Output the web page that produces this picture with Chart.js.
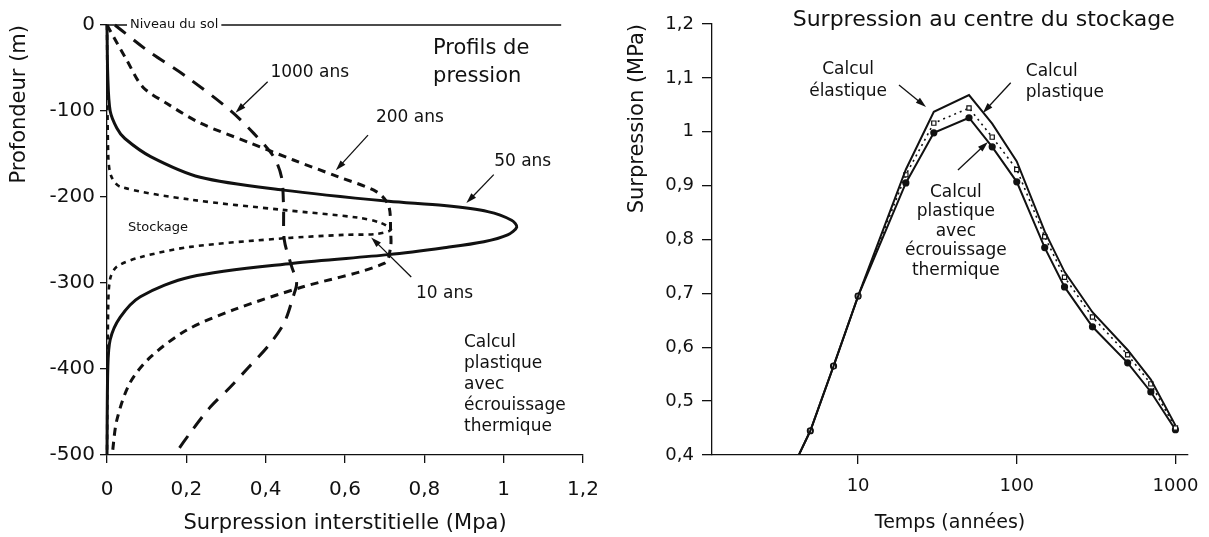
<!DOCTYPE html>
<html>
<head>
<meta charset="utf-8">
<script src="https://cdn.jsdelivr.net/npm/chart.js@4.4.0/dist/chart.umd.min.js"></script>
<style>
  html, body { margin: 0; padding: 0; background: #fff; }
  #gauche { position: absolute; left: 0; top: 0; }
  #droite { position: absolute; left: 600px; top: 0; }
</style>
</head>
<body>
<canvas id="gauche" width="600" height="537"></canvas>
<canvas id="droite" width="609" height="537"></canvas>
<script>
// Profils de pression : [surpression (MPa), profondeur (m)]
const profil10 = [[0, 0], [0.003, -150], [0.01, -175], [0.033, -188], [0.21, -203], [0.443, -215], [0.633, -224],
  [0.69, -230], [0.716, -238], [0.68, -243], [0.6, -244], [0.446, -248], [0.21, -258], [0.084, -270],
  [0.025, -281], [0.008, -295], [0.003, -330], [0, -500]];
const profil50 = [[0, 0], [0.002, -60], [0.008, -100], [0.025, -120], [0.045, -132], [0.11, -153], [0.235, -177],
  [0.445, -192], [0.71, -205], [0.85, -210], [0.96, -217], [1.02, -227], [1.033, -235], [1.01, -244], [0.95, -252],
  [0.85, -259], [0.71, -267], [0.47, -277], [0.21, -293], [0.084, -316], [0.033, -340], [0.008, -366],
  [0.002, -400], [0, -500]];
const profil200 = [[0, 0], [0.05, -41], [0.09, -72], [0.15, -91], [0.235, -114], [0.36, -137], [0.47, -157],
  [0.58, -176], [0.68, -194], [0.71, -210], [0.715, -240], [0.715, -258], [0.7, -277], [0.49, -305],
  [0.32, -331], [0.2, -355], [0.11, -386], [0.058, -416], [0.025, -459], [0.013, -500]];
const profil1000 = [[0.02, 0], [0.1, -29], [0.2, -60], [0.31, -99], [0.37, -126], [0.42, -153], [0.44, -177],
  [0.445, -210], [0.447, -250], [0.465, -280], [0.478, -300], [0.47, -315], [0.446, -347], [0.405, -374],
  [0.357, -398], [0.311, -421], [0.261, -444], [0.215, -471], [0.17, -500]];
const niveauSol = [[0, 0], [1.145, 0]];

// Surpression au centre du stockage
const annees = [4, 5, 7, 10, 20, 30, 50, 70, 100, 150, 200, 300, 500, 700, 1000];
const elastique = [0.385, 0.445, 0.565, 0.695, 0.93, 1.037, 1.068, 1.015, 0.945, 0.815, 0.74, 0.665, 0.595, 0.54, 0.455];
const plastique = [0.385, 0.445, 0.565, 0.695, 0.92, 1.016, 1.044, 0.99, 0.93, 0.805, 0.73, 0.656, 0.586, 0.532, 0.45];
const ecrouissage = [0.385, 0.445, 0.565, 0.695, 0.905, 0.998, 1.026, 0.972, 0.907, 0.785, 0.712, 0.638, 0.571, 0.517, 0.447];
const anneesTicks = [10, 100, 1000];

const NOIR = '#111';
Chart.defaults.font.family = '"DejaVu Sans", sans-serif';
Chart.defaults.color = NOIR;

const virgule = v => String(Math.round(v * 10) / 10).replace('.', ',');
const pts = arr => arr.map(p => ({ x: p[0], y: p[1] }));
const serie = ys => annees.map((a, i) => ({ x: a, y: ys[i] }));

// textes et flèches placés en coordonnées de données
const notes = {
  id: 'notes',
  afterDatasetsDraw(chart, args, opts) {
    const { ctx, scales: { x, y } } = chart;
    ctx.save();
    ctx.fillStyle = NOIR;
    ctx.strokeStyle = NOIR;
    (opts.arrows || []).forEach(a => {
      const x1 = x.getPixelForValue(a[0][0]), y1 = y.getPixelForValue(a[0][1]);
      const x2 = x.getPixelForValue(a[1][0]), y2 = y.getPixelForValue(a[1][1]);
      const ang = Math.atan2(y2 - y1, x2 - x1);
      ctx.lineWidth = 1.3;
      ctx.beginPath();
      ctx.moveTo(x1, y1);
      ctx.lineTo(x2 - 6 * Math.cos(ang), y2 - 6 * Math.sin(ang));
      ctx.stroke();
      ctx.beginPath();
      ctx.moveTo(x2, y2);
      ctx.lineTo(x2 - 11 * Math.cos(ang - 0.3), y2 - 11 * Math.sin(ang - 0.3));
      ctx.lineTo(x2 - 11 * Math.cos(ang + 0.3), y2 - 11 * Math.sin(ang + 0.3));
      ctx.closePath();
      ctx.fill();
    });
    (opts.texts || []).forEach(t => {
      ctx.font = (t.size || 17) + 'px "DejaVu Sans"';
      ctx.textAlign = t.align || 'left';
      ctx.textBaseline = 'middle';
      const px = x.getPixelForValue(t.x), py = y.getPixelForValue(t.y);
      t.lines.forEach((line, i) => {
        const ly = py + i * (t.lh || 21);
        if (t.bg) {
          const w = ctx.measureText(line).width;
          ctx.fillStyle = '#fff';
          ctx.fillRect(px - 3, ly - 8, w + 6, 16);
          ctx.fillStyle = NOIR;
        }
        ctx.fillText(line, px, ly);
      });
    });
    ctx.restore();
  }
};

new Chart(document.getElementById('gauche'), {
  type: 'scatter',
  data: {
    datasets: [
      { label: 'sol', data: pts(niveauSol), borderWidth: 1.3, tension: 0 },
      { label: '10 ans', data: pts(profil10), borderWidth: 2.6, borderDash: [5, 5] },
      { label: '50 ans', data: pts(profil50), borderWidth: 3 },
      { label: '200 ans', data: pts(profil200), borderWidth: 3, borderDash: [8, 6] },
      { label: '1000 ans', data: pts(profil1000), borderWidth: 3, borderDash: [14, 10] }
    ].map(d => Object.assign({ showLine: true, borderColor: NOIR, pointRadius: 0, tension: 0.3, clip: 4 }, d))
  },
  options: {
    responsive: false,
    animation: false,
    layout: { padding: { top: 25, right: 17, left: 0, bottom: 0 } },
    plugins: {
      legend: { display: false },
      tooltip: { enabled: false },
      notes: {
        texts: [
          { x: 0.058, y: 0, lines: ['Niveau du sol'], size: 13, bg: true },
          { x: 0.412, y: -55, lines: ['1000 ans'] },
          { x: 0.678, y: -108, lines: ['200 ans'] },
          { x: 0.976, y: -159, lines: ['50 ans'] },
          { x: 0.779, y: -312, lines: ['10 ans'] },
          { x: 0.053, y: -236, lines: ['Stockage'], size: 13 },
          { x: 0.822, y: -27, lines: ['Profils de', 'pression'], size: 21, lh: 28 },
          { x: 0.9, y: -369, lines: ['Calcul', 'plastique', 'avec', 'écrouissage', 'thermique'], lh: 21 }
        ],
        arrows: [
          [[0.405, -66], [0.324, -102]],
          [[0.658, -128], [0.577, -169]],
          [[0.975, -174], [0.906, -207]],
          [[0.767, -293], [0.666, -247]]
        ]
      }
    },
    scales: {
      x: {
        type: 'linear', min: 0, max: 1.2,
        ticks: { stepSize: 0.2, callback: virgule, font: { size: 20 }, padding: 15 },
        grid: { drawOnChartArea: false, tickLength: 8, color: NOIR, lineWidth: 1.3 },
        border: { color: NOIR, width: 1.3 },
        title: { display: true, text: 'Surpression interstitielle (Mpa)', font: { size: 21 }, padding: { top: 0, bottom: 1 } },
        afterFit(s) { s.height = 82; s.paddingLeft = 0; s.paddingRight = 0; }
      },
      y: {
        min: -500, max: 0,
        ticks: { stepSize: 100, font: { size: 20 }, padding: 5 },
        grid: { drawOnChartArea: false, tickLength: 7, color: NOIR, lineWidth: 1.3 },
        border: { color: NOIR, width: 1.3 },
        title: { display: true, text: 'Profondeur (m)', align: 'end', font: { size: 21 }, padding: { top: 7, bottom: 0 } },
        afterFit(s) { s.width = 107; s.paddingTop = 0; s.paddingBottom = 0; }
      }
    }
  },
  plugins: [notes]
});

new Chart(document.getElementById('droite'), {
  type: 'scatter',
  data: {
    datasets: [
      { label: 'Calcul élastique', data: serie(elastique), borderWidth: 2, pointRadius: 0 },
      { label: 'Calcul plastique', data: serie(plastique), borderWidth: 1.6, borderDash: [2, 4],
        pointStyle: 'rect', pointRadius: 3, pointBackgroundColor: '#fff', pointBorderWidth: 1.2 },
      { label: 'Calcul plastique avec écrouissage thermique', data: serie(ecrouissage), borderWidth: 2,
        pointStyle: 'circle', pointRadius: 2.6, pointBackgroundColor: NOIR }
    ].map(d => Object.assign({ showLine: true, borderColor: NOIR, pointBorderColor: NOIR, tension: 0 }, d))
  },
  options: {
    responsive: false,
    animation: false,
    layout: { padding: { top: 24, right: 21, left: 0, bottom: 0 } },
    plugins: {
      legend: { display: false },
      tooltip: { enabled: false },
      notes: {
        texts: [
          { x: 61.9, y: 1.2074, lines: ['Surpression au centre du stockage'], size: 22, align: 'center' },
          { x: 8.65, y: 1.1147, lines: ['Calcul', 'élastique'], align: 'center', lh: 22 },
          { x: 114, y: 1.111, lines: ['Calcul', 'plastique'], lh: 21 },
          { x: 41.3, y: 0.888, lines: ['Calcul', 'plastique', 'avec', 'écrouissage', 'thermique'], align: 'center', lh: 19.5 }
        ],
        arrows: [
          [[18.1, 1.087], [26.8, 1.046]],
          [[91.6, 1.091], [61.1, 1.035]],
          [[42.6, 0.929], [65.8, 0.981]]
        ]
      }
    },
    scales: {
      x: {
        type: 'logarithmic', min: 1.2, max: 1200,
        afterBuildTicks(s) { s.ticks = anneesTicks.map(v => ({ value: v })); },
        ticks: { callback: v => String(v), font: { size: 18 }, padding: 12, autoSkip: false, maxRotation: 0 },
        grid: { drawOnChartArea: false, tickLength: 9, color: NOIR, lineWidth: 1.3 },
        border: { color: NOIR, width: 1.3 },
        title: { display: true, text: 'Temps (années)', font: { size: 19 }, padding: { top: 0, bottom: 3 } },
        afterFit(s) { s.height = 82; s.paddingLeft = 0; s.paddingRight = 0; }
      },
      y: {
        min: 0.4, max: 1.2,
        ticks: { stepSize: 0.1, callback: virgule, font: { size: 18 }, padding: 8 },
        grid: { drawOnChartArea: false, tickLength: 10, color: NOIR, lineWidth: 1.3 },
        border: { color: NOIR, width: 1.3 },
        title: { display: true, text: 'Surpression (MPa)', align: 'end', font: { size: 21 }, padding: { top: 25, bottom: 0 } },
        afterFit(s) { s.width = 112; s.paddingTop = 0; s.paddingBottom = 0; }
      }
    }
  },
  plugins: [notes]
});
</script>
</body>
</html>
